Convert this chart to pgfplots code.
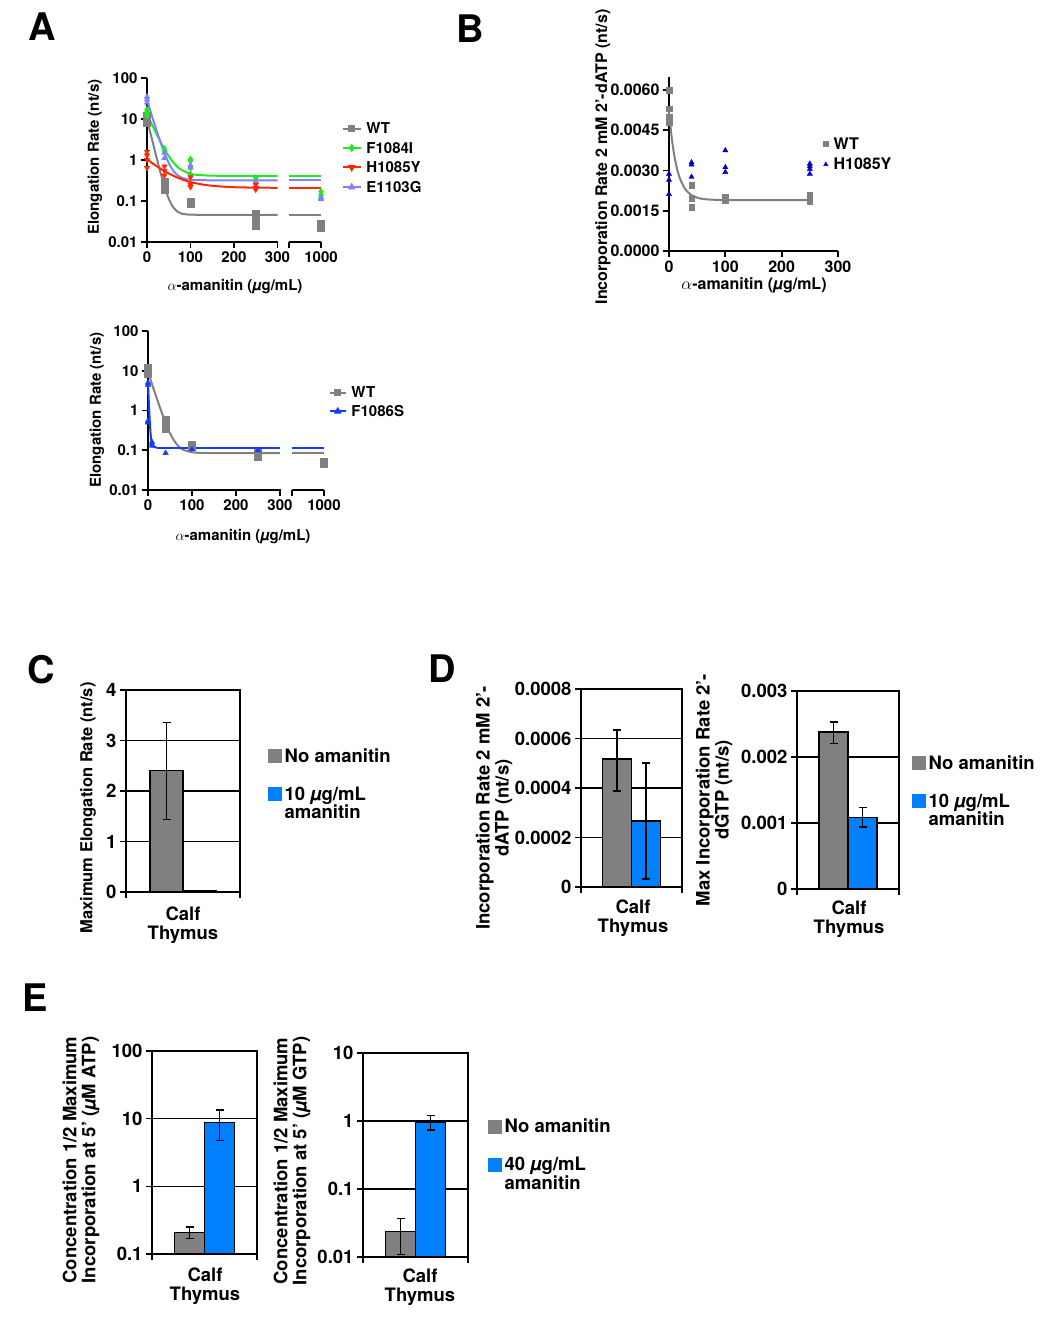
\documentclass[border=0pt]{standalone}
\usepackage{fontspec}
\setmainfont{TeX Gyre Heros}
\usepackage{pgfplots}
\pgfplotsset{compat=1.18}

\definecolor{wtgray}{RGB}{128,128,128}
\definecolor{fgreen}{RGB}{30,235,30}
\definecolor{hred}{RGB}{255,40,0}
\definecolor{elav}{RGB}{128,128,255}
\definecolor{fblue}{RGB}{20,60,255}
\definecolor{bblue}{RGB}{0,0,200}
\definecolor{bargray}{RGB}{128,128,128}
\definecolor{barblue}{RGB}{0,128,255}

\newcommand\fa{\bfseries\fontsize{15}{18}\selectfont}
\newcommand\fab{\bfseries\fontsize{16}{19}\selectfont}
\newcommand\fb{\bfseries\fontsize{18.5}{19}\selectfont}
\newcommand\fbl{\bfseries\fontsize{18.5}{16.5}\selectfont}
\newcommand\fc{\bfseries\fontsize{16.5}{19}\selectfont}
\newcommand\fL{\bfseries\fontsize{38}{40}\selectfont}
\newcommand\mug{\textit{µ}g/mL}

% legend helpers: line with mark / mark only / filled square
\newcommand\legline[2]{\addlegendimage{legend image code/.code={\draw[#1,line width=2pt,mark repeat=2,mark phase=2] plot coordinates {(0pt,5pt)(#2/2,5pt)(#2,5pt)}; \path (#2+4pt,5pt);}}}
\newcommand\legmark[1]{\addlegendimage{legend image code/.code={\draw[#1,only marks,mark size=2.5pt] plot coordinates {(3pt,5.5pt)}; \path (0pt,5pt) (9pt,5pt);}}}
\newcommand\legbox[1]{\addlegendimage{legend image code/.code={\fill[#1] (0pt,0pt) rectangle (13pt,13pt); \path (15pt,0pt);}}}

\begin{document}
\begin{tikzpicture}
\useasboundingbox (0pt,0pt) rectangle (1050pt,-1322pt);

\node[font=\fL] at (42pt,-27pt) {A};
\node[font=\fL] at (470pt,-29pt) {B};
\node[font=\fL] at (41pt,-670pt) {C};
\node[font=\fL] at (442pt,-669pt) {D};
\node[font=\fL] at (35pt,-998pt) {E};

% ---------- A (top)   x = 400 stands for 1000 after the axis break
\begin{axis}[at={(147pt,-242pt)}, anchor=south west, scale only axis, width=174pt, height=164pt,
  clip=false, axis y line=left, hide x axis, axis line style={-, line width=1.7pt},
  ymode=log, ymin=0.01, ymax=100, xmin=0, xmax=400,
  ytick={0.01,0.1,1,10,100}, yticklabels={0.01,0.1,1,10,100}, yminorticks=false,
  tick align=outside, major tick length=6pt, ytick style={line width=1.7pt, black},
  yticklabel style={font=\fa},
  legend style={draw=none, fill=none, anchor=north west, at={(1.118,0.738)}, font=\fa,
    inner sep=0pt, nodes={inner sep=1.5pt}, row sep=4pt, cells={anchor=base west}}]
\legline{wtgray, mark=square*, mark size=2.5pt}{18pt}
\addlegendentry{WT}
\legline{fgreen, mark=diamond*, mark size=2.5pt}{18pt}
\addlegendentry{F1084I}
\legline{hred, mark=triangle*, mark options={rotate=180}, mark size=2.5pt}{18pt}
\addlegendentry{H1085Y}
\legline{elav, mark=triangle*, mark size=2.5pt}{18pt}
\addlegendentry{E1103G}
\addplot[only marks, mark=square*, mark size=3.5pt, wtgray, forget plot] coordinates {
 (0,12) (0,10) (0,8) (40,0.29) (40,0.24) (40,0.19) (100,0.095) (100,0.085)
 (250,0.05) (250,0.04) (250,0.03) (250,0.025) (400,0.028) (400,0.022)};
\addplot[only marks, mark=diamond*, mark size=3.2pt, fgreen, forget plot] coordinates {
 (0,17) (0,15) (0,13) (0,12) (40,1.9) (40,1.7) (100,1.05) (100,0.95) (100,0.65) (100,0.45)
 (250,0.37) (250,0.33) (400,0.17) (400,0.14) (400,0.12)};
\addplot[only marks, mark=triangle*, mark size=3.2pt, elav, forget plot] coordinates {
 (0,35) (0,30) (0,25) (40,1.5) (40,1.1) (100,0.75) (100,0.65) (250,0.3) (400,0.12) (400,0.11)};
\addplot[only marks, mark=triangle*, mark options={rotate=180}, mark size=3.2pt, hred, forget plot] coordinates {
 (0,1.6) (0,1.3) (0,1.0) (0,0.65) (40,0.7) (40,0.55) (40,0.42) (100,0.38) (100,0.25) (100,0.22)
 (250,0.25) (250,0.21) (250,0.19)};
\addplot[wtgray, line width=2pt, smooth, forget plot] coordinates {
 (0,10.05) (5,6.1) (10,3.7) (15,2.28) (20,1.40) (25,0.87) (30,0.54) (35,0.35) (40,0.23)
 (50,0.113) (60,0.071) (70,0.055) (80,0.049) (100,0.0465) (150,0.046) (300,0.046)};
\addplot[wtgray, line width=2pt, forget plot] coordinates {(326,0.046) (400,0.046)};
\addplot[fgreen, line width=2pt, smooth, forget plot] coordinates {
 (0,13.4) (10,7.9) (20,4.74) (30,2.91) (40,1.84) (50,1.24) (60,0.89) (70,0.68) (80,0.57)
 (100,0.46) (120,0.43) (150,0.415) (200,0.41) (300,0.41)};
\addplot[fgreen, line width=2pt, forget plot] coordinates {(326,0.41) (400,0.41)};
\addplot[elav, line width=2pt, smooth, forget plot] coordinates {
 (0,29) (10,13.2) (20,6.1) (30,2.92) (40,1.5) (50,0.85) (60,0.555) (70,0.43) (80,0.37)
 (100,0.33) (150,0.32) (300,0.32)};
\addplot[elav, line width=2pt, forget plot] coordinates {(326,0.32) (400,0.32)};
\addplot[hred, line width=2pt, smooth, forget plot] coordinates {
 (0,1.05) (10,0.87) (20,0.735) (30,0.625) (40,0.54) (60,0.415) (80,0.338) (100,0.29)
 (130,0.25) (160,0.23) (200,0.217) (250,0.212) (300,0.21)};
\addplot[hred, line width=2pt, forget plot] coordinates {(326,0.21) (400,0.21)};
\draw[line width=1.7pt, line cap=rect] (axis cs:0,0.01) -- (axis cs:300,0.01);
\draw[line width=1.7pt] (axis cs:326,0.01) -- (axis cs:400,0.01);
\pgfplotsinvokeforeach{0,100,200,300,326,400}{\draw[line width=1.7pt] (axis cs:#1,0.01) -- ++(0pt,-6pt);}
\pgfplotsinvokeforeach{0,100,200,300}{\node[font=\fa, anchor=north, yshift=-6pt] at (axis cs:#1,0.01) {#1};}
\node[font=\fa, anchor=north, yshift=-6pt] at (axis cs:400,0.01) {1000};
\end{axis}
\node[font=\fa, rotate=90] at (95pt,-157pt) {Elongation Rate (nt/s)};
\node[font=\fa] at (235pt,-287pt) {$\alpha$-amanitin (\mug)};

% ---------- A (bottom)
\begin{axis}[at={(148pt,-490pt)}, anchor=south west, scale only axis, width=176pt, height=159pt,
  clip=false, axis y line=left, hide x axis, axis line style={-, line width=1.7pt},
  ymode=log, ymin=0.01, ymax=100, xmin=0, xmax=400,
  ytick={0.01,0.1,1,10,100}, yticklabels={0.01,0.1,1,10,100}, yminorticks=false,
  tick align=outside, major tick length=6pt, ytick style={line width=1.7pt, black},
  yticklabel style={font=\fa},
  legend style={draw=none, fill=none, anchor=north west, at={(1.026,0.66)}, font=\fa,
    inner sep=0pt, nodes={inner sep=1.5pt}, row sep=3pt, cells={anchor=base west}}]
\legline{wtgray, mark=square*, mark size=2.5pt}{16pt}
\addlegendentry{WT}
\legline{fblue, mark=triangle*, mark size=2.5pt}{16pt}
\addlegendentry{F1086S}
\addplot[only marks, mark=square*, mark size=3.5pt, wtgray, forget plot] coordinates {
 (0,12) (0,10) (0,8.5) (40,0.58) (40,0.38) (40,0.34) (100,0.14) (100,0.12)
 (250,0.085) (250,0.07) (400,0.052) (400,0.046)};
\addplot[only marks, mark=triangle*, mark size=3.2pt, fblue, forget plot] coordinates {
 (0,5) (0,4.4) (0,0.55) (0,0.5) (9,0.16) (9,0.14) (10,0.13) (40,0.085) (100,0.105) (250,0.1)};
\addplot[wtgray, line width=2pt, smooth, forget plot] coordinates {
 (0,9.3) (10,4.3) (20,2.02) (30,0.97) (40,0.49) (50,0.27) (60,0.17) (70,0.124) (80,0.103)
 (100,0.089) (120,0.086) (150,0.085) (300,0.085)};
\addplot[wtgray, line width=2pt, forget plot] coordinates {(327,0.085) (400,0.085)};
\addplot[fblue, line width=2pt, smooth, forget plot] coordinates {
 (0,5) (2,1.5) (4,0.55) (6,0.25) (8,0.16) (10,0.135) (15,0.12) (20,0.117)};
\addplot[fblue, line width=2pt, forget plot] coordinates {(20,0.117) (300,0.117)};
\addplot[fblue, line width=2pt, forget plot] coordinates {(327,0.117) (400,0.117)};
\draw[line width=1.7pt, line cap=rect] (axis cs:0,0.01) -- (axis cs:300,0.01);
\draw[line width=1.7pt] (axis cs:327,0.01) -- (axis cs:400,0.01);
\pgfplotsinvokeforeach{0,100,200,300,327,400}{\draw[line width=1.7pt] (axis cs:#1,0.01) -- ++(0pt,-6pt);}
\pgfplotsinvokeforeach{0,100,200,300}{\node[font=\fa, anchor=north, yshift=-6pt] at (axis cs:#1,0.01) {#1};}
\node[font=\fa, anchor=north, yshift=-6pt] at (axis cs:400,0.01) {1000};
\end{axis}
\node[font=\fa, rotate=90] at (97pt,-410pt) {Elongation Rate (nt/s)};
\node[font=\fa] at (243pt,-537pt) {$\alpha$-amanitin (\mug)};

% ---------- B
\begin{axis}[at={(669pt,-251pt)}, anchor=south west, scale only axis, width=169pt, height=174.4pt,
  clip=false, axis lines=left, axis line style={-, line width=1.7pt},
  xmin=0, xmax=300, ymin=0, ymax=0.0065, scaled y ticks=false,
  xtick={0,100,200,300}, xticklabels={0,100,200,300},
  ytick={0,0.0015,0.003,0.0045,0.006}, yticklabels={0.0000,0.0015,0.0030,0.0045,0.0060},
  tick align=outside, major tick length=6pt, tick style={line width=1.7pt, black},
  ticklabel style={font=\fab},
  legend style={draw=none, fill=none, anchor=north west, font=\fab, at={(0.908,0.66)},
    inner sep=0pt, nodes={inner sep=1.5pt}, row sep=4.5pt, cells={anchor=base west}}]
\legmark{wtgray, mark=square*}
\addlegendentry{WT}
\legmark{bblue, mark=triangle*}
\addlegendentry{H1085Y}
\addplot[only marks, mark=square*, mark size=2.8pt, wtgray, forget plot] coordinates {
 (0,0.0060) (0,0.0053) (0,0.0050) (0,0.0048) (40,0.00245) (40,0.00197) (40,0.00164)
 (100,0.00201) (100,0.00193) (100,0.00188) (250,0.0021) (250,0.0020) (250,0.00193) (250,0.00185)};
\addplot[only marks, mark=triangle*, mark size=3pt, bblue, forget plot] coordinates {
 (0,0.00287) (0,0.00265) (0,0.00212) (40,0.0033) (40,0.00322) (40,0.00276)
 (100,0.00375) (100,0.00312) (100,0.00294) (250,0.00325) (250,0.00315) (250,0.00305) (250,0.00287)};
\addplot[wtgray, line width=2pt, smooth, forget plot] coordinates {
 (0,0.0052) (5,0.00419) (10,0.00349) (15,0.0030) (20,0.00267) (25,0.00245) (30,0.00227)
 (40,0.00208) (50,0.00199) (60,0.00194) (80,0.00191) (120,0.0019) (250,0.0019)};
\end{axis}
\node[font=\fab, rotate=90] at (603pt,-157pt) {Incorporation Rate 2 mM 2'-dATP (nt/s)};
\node[font=\fab] at (754pt,-285pt) {$\alpha$-amanitin (\mug)};

% ---------- C
\begin{axis}[at={(126pt,-892pt)}, anchor=south west, scale only axis, width=114pt, height=202pt,
  xmin=0, xmax=1, xtick={0,1}, xticklabels={}, ymin=0, ymax=4,
  ytick={0,1,2,3,4}, yticklabels={0,1,2,3,4},
  tick pos=left, tick align=outside, major tick length=6pt, tick style={black, line width=1.3pt},
  axis line style={line width=1.3pt}, ymajorgrids, grid style={black, line width=1.3pt},
  yticklabel style={font=\fb}, ybar=0pt, bar width=33pt,
  legend style={draw=none, fill=none, anchor=north west, at={(1.241,0.72)}, font=\fbl,
    inner sep=0pt, nodes={inner sep=1.5pt}, row sep=20pt, cells={anchor=base west}}]
\legbox{bargray}
\addlegendentry{No amanitin}
\legbox{barblue}
\addlegendentry{\vtop{\hbox{10 \mug}\hbox{amanitin}}}
\addplot[fill=bargray, draw=black, line width=1.2pt, bar shift=-16.5pt, forget plot,
  error bars/.cd, y dir=both, y explicit, error bar style={black, line width=1.2pt},
  error mark options={rotate=90, black, line width=1.2pt, mark size=4pt}]
  coordinates {(0.5,2.4) += (0,0.96) -= (0,0.96)};
\addplot[fill=barblue, draw=black, line width=1.2pt, bar shift=16.5pt, forget plot,
  error bars/.cd, y dir=both, y explicit, error bar style={black, line width=1.2pt},
  error mark options={rotate=90, black, line width=1.2pt, mark size=4pt}]
  coordinates {(0.5,0.02) += (0,0.005) -= (0,0.005)};
\end{axis}
\node[font=\fc, rotate=90] at (88pt,-808pt) {Maximum Elongation Rate (nt/s)};
\node[font=\fb, align=center] at (183pt,-925pt) {Calf\\Thymus};

% ---------- D (left)
\begin{axis}[at={(581pt,-887pt)}, anchor=south west, scale only axis, width=101pt, height=198pt,
  xmin=0, xmax=1, xtick={0,1}, xticklabels={}, ymin=0, ymax=0.0008, scaled y ticks=false,
  ytick={0,0.0002,0.0004,0.0006,0.0008}, yticklabels={0,0.0002,0.0004,0.0006,0.0008},
  tick pos=left, tick align=outside, major tick length=6pt, tick style={black, line width=1.3pt},
  axis line style={line width=1.3pt}, ymajorgrids, grid style={black, line width=1.3pt},
  yticklabel style={font=\fb}, ybar=0pt, bar width=29pt]
\addplot[fill=bargray, draw=black, line width=1.2pt, bar shift=-14.5pt, forget plot,
  error bars/.cd, y dir=both, y explicit, error bar style={black, line width=1.2pt},
  error mark options={rotate=90, black, line width=1.2pt, mark size=4pt}]
  coordinates {(0.5,0.000517) += (0,0.000117) -= (0,0.000129)};
\addplot[fill=barblue, draw=black, line width=1.2pt, bar shift=14.5pt, forget plot,
  error bars/.cd, y dir=both, y explicit, error bar style={black, line width=1.2pt},
  error mark options={rotate=90, black, line width=1.2pt, mark size=4pt}]
  coordinates {(0.5,0.000267) += (0,0.000234) -= (0,0.000235)};
\end{axis}
\node[font=\fb, rotate=90, align=center] at (494pt,-808pt) {Incorporation Rate 2 mM 2'-\\dATP (nt/s)};
\node[font=\fb, align=center] at (633pt,-918pt) {Calf\\Thymus};

% ---------- D (right)
\begin{axis}[at={(797pt,-889pt)}, anchor=south west, scale only axis, width=102pt, height=198pt,
  xmin=0, xmax=1, xtick={0,1}, xticklabels={}, ymin=0, ymax=0.003, scaled y ticks=false,
  ytick={0,0.001,0.002,0.003}, yticklabels={0,0.001,0.002,0.003},
  tick pos=left, tick align=outside, major tick length=6pt, tick style={black, line width=1.3pt},
  axis line style={line width=1.3pt}, ymajorgrids, grid style={black, line width=1.3pt},
  yticklabel style={font=\fb}, ybar=0pt, bar width=29pt,
  legend style={draw=none, fill=none, anchor=north west, at={(1.123,0.684)}, font=\fbl,
    inner sep=0pt, nodes={inner sep=1.5pt}, row sep=20pt, cells={anchor=base west}}]
\legbox{bargray}
\addlegendentry{No amanitin}
\legbox{barblue}
\addlegendentry{\vtop{\hbox{10 \mug}\hbox{amanitin}}}
\addplot[fill=bargray, draw=black, line width=1.2pt, bar shift=-14.5pt, forget plot,
  error bars/.cd, y dir=both, y explicit, error bar style={black, line width=1.2pt},
  error mark options={rotate=90, black, line width=1.2pt, mark size=4pt}]
  coordinates {(0.5,0.00238) += (0,0.00015) -= (0,0.00017)};
\addplot[fill=barblue, draw=black, line width=1.2pt, bar shift=14.5pt, forget plot,
  error bars/.cd, y dir=both, y explicit, error bar style={black, line width=1.2pt},
  error mark options={rotate=90, black, line width=1.2pt, mark size=4pt}]
  coordinates {(0.5,0.00108) += (0,0.00015) -= (0,0.00014)};
\end{axis}
\node[font=\fb, rotate=90, align=center] at (714pt,-790pt) {Max Incorporation Rate 2'-\\dGTP (nt/s)};
\node[font=\fb, align=center] at (849pt,-919pt) {Calf\\Thymus};

% ---------- E (left)
\begin{axis}[at={(152pt,-1254pt)}, anchor=south west, scale only axis, width=105pt, height=203pt,
  xmin=0, xmax=1, xtick={0,1}, xticklabels={},
  ymode=log, log origin=infty, ymin=0.1, ymax=100, yminorticks=false,
  ytick={0.1,1,10,100}, yticklabels={0.1,1,10,100},
  tick pos=left, tick align=outside, major tick length=6pt, tick style={black, line width=1.3pt},
  axis line style={line width=1.3pt}, ymajorgrids, grid style={black, line width=1.3pt},
  yticklabel style={font=\fb}, ybar=0pt, bar width=30pt]
\addplot[fill=bargray, draw=black, line width=1.2pt, bar shift=-15pt, forget plot,
  error bars/.cd, y dir=both, y explicit, error bar style={black, line width=1.2pt},
  error mark options={rotate=90, black, line width=1.2pt, mark size=4pt}]
  coordinates {(0.5,0.21) += (0,0.04) -= (0,0.04)};
\addplot[fill=barblue, draw=black, line width=1.2pt, bar shift=15pt, forget plot,
  error bars/.cd, y dir=both, y explicit, error bar style={black, line width=1.2pt},
  error mark options={rotate=90, black, line width=1.2pt, mark size=4pt}]
  coordinates {(0.5,8.9) += (0,4.5) -= (0,4.1)};
\end{axis}
\node[font=\fb, rotate=90, align=center] at (81pt,-1160pt) {Concentration 1/2 Maximum\\Incorporation at 5' (\textit{µ}M ATP)};
\node[font=\fb, align=center] at (205pt,-1286pt) {Calf\\Thymus};

% ---------- E (right)
\begin{axis}[at={(363pt,-1257pt)}, anchor=south west, scale only axis, width=105pt, height=204pt,
  xmin=0, xmax=1, xtick={0,1}, xticklabels={},
  ymode=log, log origin=infty, ymin=0.01, ymax=10, yminorticks=false,
  ytick={0.01,0.1,1,10}, yticklabels={0.01,0.1,1,10},
  tick pos=left, tick align=outside, major tick length=6pt, tick style={black, line width=1.3pt},
  axis line style={line width=1.3pt}, ymajorgrids, grid style={black, line width=1.3pt},
  yticklabel style={font=\fb}, ybar=0pt, bar width=30pt,
  legend style={draw=none, fill=none, anchor=north west, at={(1.186,0.684)}, font=\fbl,
    inner sep=0pt, nodes={inner sep=1.5pt}, row sep=20pt, cells={anchor=base west}}]
\legbox{bargray}
\addlegendentry{No amanitin}
\legbox{barblue}
\addlegendentry{\vtop{\hbox{40 \mug}\hbox{amanitin}}}
\addplot[fill=bargray, draw=black, line width=1.2pt, bar shift=-15pt, forget plot,
  error bars/.cd, y dir=both, y explicit, error bar style={black, line width=1.2pt},
  error mark options={rotate=90, black, line width=1.2pt, mark size=4pt}]
  coordinates {(0.5,0.024) += (0,0.013) -= (0,0.013)};
\addplot[fill=barblue, draw=black, line width=1.2pt, bar shift=15pt, forget plot,
  error bars/.cd, y dir=both, y explicit, error bar style={black, line width=1.2pt},
  error mark options={rotate=90, black, line width=1.2pt, mark size=4pt}]
  coordinates {(0.5,0.97) += (0,0.25) -= (0,0.23)};
\end{axis}
\node[font=\fb, rotate=90, align=center] at (292pt,-1161pt) {Concentration 1/2 Maximum\\Incorporation at 5' (\textit{µ}M GTP)};
\node[font=\fb, align=center] at (420pt,-1287pt) {Calf\\Thymus};
\end{tikzpicture}
\end{document}
